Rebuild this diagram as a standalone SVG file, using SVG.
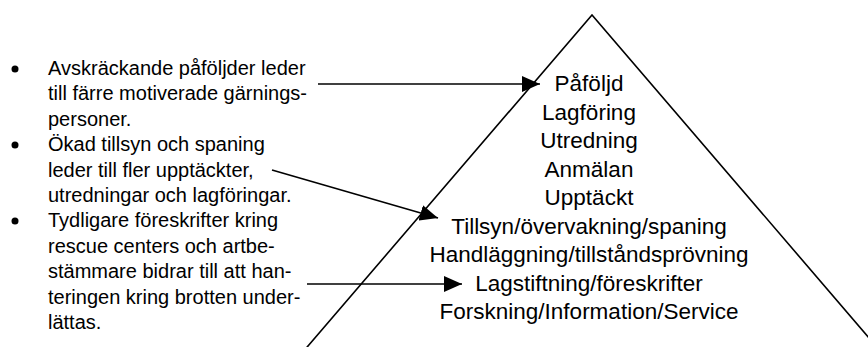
<svg xmlns="http://www.w3.org/2000/svg" width="868" height="347" viewBox="0 0 868 347">
  <defs>
    <style>
      .txt { font-family: "Liberation Sans", Arial, Helvetica, sans-serif; fill: #000; }
      .left { font-size: 20px; }
      .pyr { font-size: 22.5px; text-anchor: middle; }
      .edge { stroke: #000; stroke-width: 1.6; fill: none; }
      .bullet { fill: #000; }
    </style>
    <marker id="head" markerUnits="userSpaceOnUse" markerWidth="18" markerHeight="16" refX="18" refY="8" orient="auto" viewBox="0 0 18 16">
      <path d="M0,0 L18,8 L0,16 Z" fill="#000"/>
    </marker>
  </defs>
  <rect width="868" height="347" fill="#fff"/>

  <g id="pyramid">
    <polyline class="edge" points="305,349.5 592,15 879,349.5"/>
    <g class="txt pyr">
      <text x="589" y="91">Påföljd</text>
      <text x="589" y="119.5">Lagföring</text>
      <text x="589" y="148">Utredning</text>
      <text x="589" y="176.5">Anmälan</text>
      <text x="589" y="205">Upptäckt</text>
      <text x="589" y="233.5">Tillsyn/övervakning/spaning</text>
      <text x="589" y="262">Handläggning/tillståndsprövning</text>
      <text x="589" y="290.5">Lagstiftning/föreskrifter</text>
      <text x="589" y="319">Forskning/Information/Service</text>
    </g>
  </g>

  <g id="point1">
    <circle class="bullet" cx="15" cy="69" r="3.5"/>
    <g class="txt left">
      <text x="48" y="75">Avskräckande påföljder leder</text>
      <text x="48" y="100.4">till färre motiverade gärnings-</text>
      <text x="48" y="125.8">personer.</text>
    </g>
  </g>

  <g id="point2">
    <circle class="bullet" cx="15" cy="145" r="3.5"/>
    <g class="txt left">
      <text x="48" y="151.2">Ökad tillsyn och spaning</text>
      <text x="48" y="176.6">leder till fler upptäckter,</text>
      <text x="48" y="202">utredningar och lagföringar.</text>
    </g>
  </g>

  <g id="point3">
    <circle class="bullet" cx="15" cy="221" r="3.5"/>
    <g class="txt left">
      <text x="48" y="227.4">Tydligare föreskrifter kring</text>
      <text x="48" y="252.8">rescue centers och artbe-</text>
      <text x="48" y="278.2">stämmare bidrar till att han-</text>
      <text x="48" y="303.6">teringen kring brotten under-</text>
      <text x="48" y="329">lättas.</text>
    </g>
  </g>

  <g id="connectors">
    <line class="edge" x1="318" y1="84" x2="540" y2="84" marker-end="url(#head)"/>
    <line class="edge" x1="272" y1="170" x2="438" y2="218" marker-end="url(#head)"/>
    <line class="edge" x1="307" y1="284" x2="462" y2="284" marker-end="url(#head)"/>
  </g>
</svg>
